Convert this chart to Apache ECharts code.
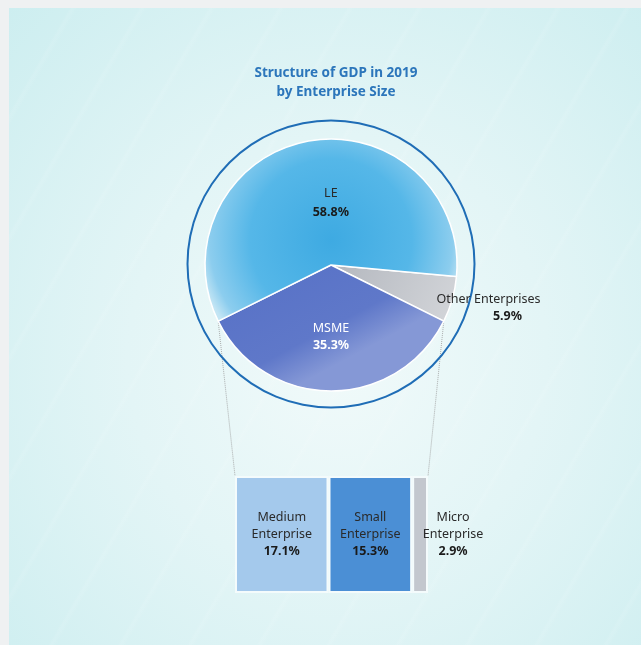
<!DOCTYPE html>
<html lang="en">
<head>
<meta charset="UTF-8">
<title>Structure of GDP in 2019</title>
<script src="https://cdn.jsdelivr.net/npm/echarts@6/dist/echarts.min.js"></script>
<style>
  html, body { margin: 0; padding: 0; }
  #wrap { position: relative; width: 641px; height: 645px; background: #eff1f2; overflow: hidden; }
  #panel {
    position: absolute; left: 9px; top: 8px; right: 0; bottom: 0;
    background:
      repeating-linear-gradient(120deg, rgba(255,255,255,0) 0px, rgba(255,255,255,0) 52px, rgba(255,255,255,0.09) 55px, rgba(255,255,255,0) 60px),
      radial-gradient(ellipse at 52% 55%, #f1fafa 0%, #e3f5f6 45%, #cdeef0 100%);
  }
  #main { position: absolute; left: 0; top: 0; width: 641px; height: 645px; }
</style>
</head>
<body>
<div id="wrap">
  <div id="panel"></div>
  <div id="main"></div>
</div>
<script type="text/javascript">
  // GDP shares 2019 (%)
  var pieNames = ['Other Enterprises', 'MSME', 'LE'];
  var pieValues = [5.9, 35.3, 58.8];
  // MSME breakdown (%)
  var msmeNames = ['Medium\nEnterprise', 'Small\nEnterprise', 'Micro\nEnterprise'];
  var msmeValues = [17.1, 15.3, 2.9];

  // layout
  var cx = 331, cy = 265, R = 126;
  var barLeft = 235, barTop = 476, barW = 193, barH = 117;
  var font = 'Noto Sans';

  var total = pieValues.reduce(function (a, b) { return a + b; }, 0);
  var msmeIdx = pieNames.indexOf('MSME');
  // MSME slice centred at the bottom
  var before = 0;
  for (var i = 0; i < msmeIdx; i++) before += pieValues[i];
  var msmeStart = -90 + pieValues[msmeIdx] / total * 180;
  var startAngle = msmeStart + before / total * 360;

  var pieColors = {
    'LE': {
      type: 'radial', x: cx, y: cy - 25, r: 135, global: true,
      colorStops: [{ offset: 0, color: '#3eaae2' }, { offset: 0.6, color: '#55b7e8' }, { offset: 0.9, color: '#8ccdee' }, { offset: 1, color: '#c3e5f4' }]
    },
    'MSME': {
      type: 'linear', x: 0, y: 0, x2: 0.3, y2: 1,
      colorStops: [{ offset: 0, color: '#5670c6' }, { offset: 0.75, color: '#5f78c9' }, { offset: 1, color: '#8598d6' }]
    },
    'Other Enterprises': {
      type: 'linear', x: 0, y: 0, x2: 1, y2: 1,
      colorStops: [{ offset: 0, color: '#b3b7be' }, { offset: 1, color: '#d4d6da' }]
    }
  };

  var pieLabels = {
    'LE': { show: true, position: 'inside', offset: [12, 3], color: '#222',
      formatter: function (p) { return '{n|' + p.name + '}\n{v|' + p.value + '%}'; } },
    'MSME': { show: true, position: 'inside', offset: [0, 6], color: '#fff',
      formatter: function (p) { return '{n|' + p.name + '}\n{w|' + p.value + '%}'; } },
    'Other Enterprises': { show: true, position: 'inside', offset: [94, 25], color: '#222',
      formatter: function (p) { return '{n|' + p.name + '}\n{o|' + p.value + '%}'; } }
  };

  var rich = {
    n: { fontFamily: font, fontSize: 12.5, color: '#2a2a2a', lineHeight: 17 },
    v: { fontFamily: font, fontSize: 12.5, fontWeight: 'bold', color: '#1a1a1a', lineHeight: 17 },
    o: { fontFamily: font, fontSize: 12.5, fontWeight: 'bold', color: '#1a1a1a', lineHeight: 17, padding: [0, 0, 0, 38] },
    w: { fontFamily: font, fontSize: 12.5, fontWeight: 'bold', color: '#ffffff', lineHeight: 17 }
  };
  var richLE = Object.assign({}, rich, {
    n: Object.assign({}, rich.n, { lineHeight: 19 }),
    v: Object.assign({}, rich.v, { lineHeight: 19 })
  });
  var richMsme = Object.assign({}, rich, { n: Object.assign({}, rich.n, { color: '#ffffff' }) });

  var msmeColors = ['#a4c9ec', '#4b8fd5', '#c3c7ce'];
  var msmeOffsets = [[0, 0], [0, 0], [33, 0]];

  // connector lines from MSME corners to the bar
  var a1 = msmeStart * Math.PI / 180;
  var a2 = (msmeStart - pieValues[msmeIdx] / total * 360) * Math.PI / 180;
  var pRight = [cx + R * Math.cos(a1), cy - R * Math.sin(a1)];
  var pLeft = [cx + R * Math.cos(a2), cy - R * Math.sin(a2)];

  var chart = echarts.init(document.getElementById('main'));
  var option = {
    backgroundColor: 'transparent',
    animation: false,
    title: {
      text: 'Structure of GDP in 2019\nby Enterprise Size',
      left: 331, top: 59, textAlign: 'center',
      textStyle: { fontFamily: font, fontSize: 13.5, fontWeight: 'bold', color: '#2c76bb', lineHeight: 19 }
    },
    grid: { left: barLeft, top: barTop, width: barW, height: barH, containLabel: false },
    xAxis: { type: 'value', min: 0, max: msmeValues.reduce(function (a, b) { return a + b; }, 0), show: false },
    yAxis: { type: 'category', data: ['MSME'], show: false },
    graphic: [
      { type: 'polyline', silent: true, z: 1, shape: { points: [pLeft, [barLeft, barTop]] },
        style: { stroke: '#9a9a9a', lineWidth: 0.8, lineDash: [1, 1] } },
      { type: 'polyline', silent: true, z: 1, shape: { points: [pRight, [barLeft + barW, barTop]] },
        style: { stroke: '#9a9a9a', lineWidth: 0.8, lineDash: [1, 1] } }
    ],
    series: [
      {
        type: 'pie', silent: true, radius: [142.5, 144.5], center: [cx, cy - 1],
        label: { show: false }, labelLine: { show: false },
        itemStyle: { color: '#1f6db6' },
        data: [{ name: 'ring', value: total }]
      },
      {
        type: 'pie', silent: true, radius: [0, R], center: [cx, cy],
        startAngle: startAngle, clockwise: true,
        labelLine: { show: false },
        itemStyle: { borderColor: '#ffffff', borderWidth: 1.5 },
        data: pieNames.map(function (n, i) {
          return {
            name: n, value: pieValues[i],
            itemStyle: { color: pieColors[n] },
            label: Object.assign({ rich: n === 'MSME' ? richMsme : (n === 'LE' ? richLE : rich) }, pieLabels[n])
          };
        })
      }
    ].concat(msmeNames.map(function (n, i) {
      return {
        type: 'bar', stack: 'msme', barWidth: '100%', silent: true,
        itemStyle: { color: msmeColors[i], borderColor: '#f4fbfc', borderWidth: 2 },
        label: {
          show: true, position: 'inside', offset: msmeOffsets[i],
          formatter: function (p) { return '{n|' + n + '}\n{v|' + p.value + '%}'; },
          rich: rich
        },
        data: [msmeValues[i]]
      };
    }))
  };
  chart.setOption(option);
</script>
</body>
</html>
